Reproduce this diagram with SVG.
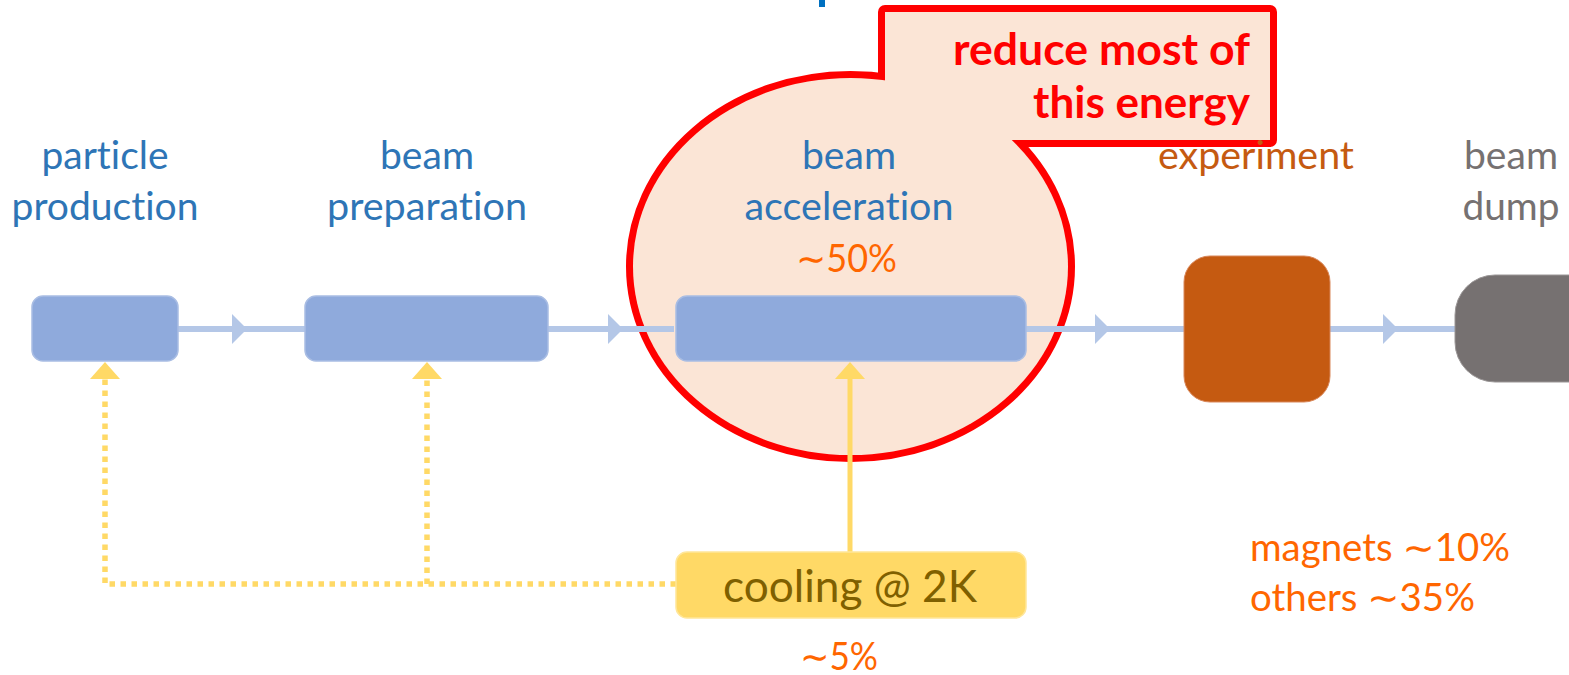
<svg xmlns="http://www.w3.org/2000/svg" width="1569" height="675" viewBox="0 0 1569 675">
  <style>
    text { font-family: Lato, "DejaVu Sans", sans-serif; font-variant-ligatures: none; font-feature-settings: "liga" 0, "clig" 0; }
    .lbl { font-size: 39px; fill: #2e75b6; text-anchor: middle; }
    .pct { font-size: 39px; fill: #ff6600; }
    .node { fill: #8faadc; stroke: #a9bde3; stroke-width: 1.5; }
    .flow { fill: none; stroke: #b4c7e7; stroke-width: 6; marker-mid: url(#blueHead); }
    .dot { fill: none; stroke: #ffd966; stroke-width: 5.5; stroke-dasharray: 5.5 5.5; marker-end: url(#yellowHead); }
    .solid { fill: none; stroke: #ffd966; stroke-width: 5; marker-end: url(#yellowHead); }
    .call { font-size: 44px; font-weight: bold; fill: #ff0000; text-anchor: end; }
  </style>
  <defs>
    <marker id="blueHead" viewBox="0 0 15 30" refX="0" refY="15" markerWidth="15" markerHeight="30" markerUnits="userSpaceOnUse" orient="auto">
      <path d="M0,0 L15,15 L0,30 Z" fill="#b4c7e7"/>
    </marker>
    <marker id="yellowHead" viewBox="0 0 17 30" refX="0" refY="15" markerWidth="17" markerHeight="30" markerUnits="userSpaceOnUse" orient="auto">
      <path d="M0,0 L17,15 L0,30 Z" fill="#ffd966"/>
    </marker>
  </defs>

  <rect width="1569" height="675" fill="#ffffff"/>

  <!-- cut-off title fragment -->
  <rect x="819" y="0" width="6" height="7" fill="#0070c0"/>

  <!-- highlight: ellipse + callout (union outline) -->
  <g id="highlight">
    <ellipse cx="850.5" cy="266.5" rx="217.5" ry="188.5" fill="none" stroke="#ff0000" stroke-width="14"/>
    <rect x="885" y="12" width="385" height="128" fill="none" stroke="#ff0000" stroke-width="14" stroke-linejoin="round"/>
    <ellipse cx="850.5" cy="266.5" rx="217.5" ry="188.5" fill="#fbe5d6"/>
    <rect x="885" y="12" width="385" height="128" fill="#fbe5d6"/>
  </g>

  <g id="connectors">
    <path class="flow" d="M178 329 L232 329 L305 329"/>
    <path class="flow" d="M546 329 L608 329 L674 329"/>
    <path class="flow" d="M1026 329 L1095 329 L1184 329"/>
    <path class="flow" d="M1330 329 L1383 329 L1456 329"/>
    <path class="dot" d="M676 584 H105 V379"/>
    <path class="dot" d="M427 584 V379"/>
    <path class="solid" d="M850 552 V379"/>
  </g>

  <g id="particle-production">
    <rect class="node" x="32" y="296" width="146" height="65" rx="11"/>
    <text class="lbl" x="105" y="169" textLength="127" lengthAdjust="spacingAndGlyphs">particle</text>
    <text class="lbl" x="105" y="220" textLength="187" lengthAdjust="spacingAndGlyphs">production</text>
  </g>

  <g id="beam-preparation">
    <rect class="node" x="305" y="296" width="243" height="65" rx="11"/>
    <text class="lbl" x="427" y="169" textLength="94" lengthAdjust="spacingAndGlyphs">beam</text>
    <text class="lbl" x="427" y="220" textLength="200" lengthAdjust="spacingAndGlyphs">preparation</text>
  </g>

  <g id="beam-acceleration">
    <rect class="node" x="676" y="296" width="350" height="65" rx="11"/>
    <text class="lbl" x="849" y="169" textLength="94" lengthAdjust="spacingAndGlyphs">beam</text>
    <text class="lbl" x="849" y="220" textLength="209" lengthAdjust="spacingAndGlyphs">acceleration</text>
    <text class="pct" x="846.5" y="272" text-anchor="middle" textLength="101" lengthAdjust="spacingAndGlyphs">∼50%</text>
  </g>

  <g id="experiment">
    <rect x="1184" y="256" width="146" height="146" rx="26" fill="#c55a11" stroke="#d9875a" stroke-width="1"/>
    <text class="lbl" x="1256" y="169" style="fill:#c55a11" textLength="196" lengthAdjust="spacingAndGlyphs">experiment</text>
  </g>

  <g id="beam-dump">
    <rect x="1455" y="275" width="160" height="107" rx="40" fill="#767171" stroke="#9a9696" stroke-width="1"/>
    <text class="lbl" x="1511" y="169" style="fill:#767171" textLength="94" lengthAdjust="spacingAndGlyphs">beam</text>
    <text class="lbl" x="1511" y="220" style="fill:#767171" textLength="97" lengthAdjust="spacingAndGlyphs">dump</text>
  </g>

  <g id="cooling">
    <rect x="676" y="552" width="350" height="66" rx="11" fill="#ffd966" stroke="#ffe699" stroke-width="1.5"/>
    <text x="850" y="602" font-size="45" fill="#7f6000" text-anchor="middle" textLength="254" lengthAdjust="spacingAndGlyphs">cooling @ 2K</text>
    <text class="pct" x="839" y="670" text-anchor="middle" textLength="78" lengthAdjust="spacingAndGlyphs">∼5%</text>
  </g>

  <g id="other-consumers">
    <text class="pct" x="1250" y="561" textLength="260" lengthAdjust="spacingAndGlyphs">magnets ∼10%</text>
    <text class="pct" x="1250" y="611" textLength="225" lengthAdjust="spacingAndGlyphs">others ∼35%</text>
  </g>

  <g id="callout-text">
    <text class="call" x="1250" y="65" textLength="297" lengthAdjust="spacingAndGlyphs">reduce most of</text>
    <text class="call" x="1250" y="118" textLength="217" lengthAdjust="spacingAndGlyphs">this energy</text>
  </g>
</svg>
